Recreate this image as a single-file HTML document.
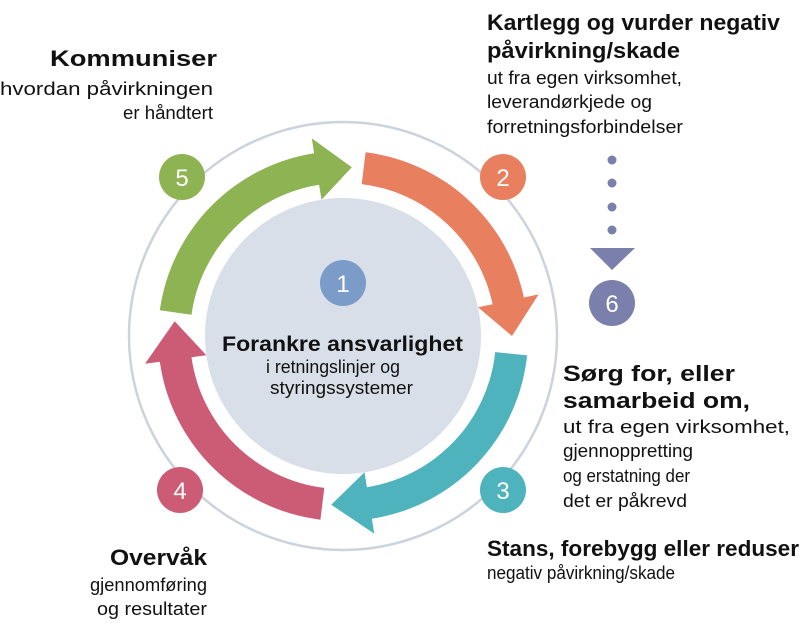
<!DOCTYPE html>
<html><head><meta charset="utf-8"><style>
html,body{margin:0;padding:0;background:#fff}
svg{display:block}
text{font-family:"Liberation Sans",sans-serif;fill:#111}
.b{font-weight:bold;font-size:22px}
.n{font-size:18px}
.num{font-family:"Liberation Sans",sans-serif;font-size:24px;fill:#fff;text-anchor:middle}
</style></head><body>
<svg width="800" height="629" viewBox="0 0 800 629" xmlns="http://www.w3.org/2000/svg">
<circle cx="343" cy="336" r="214" fill="none" stroke="#cdd3dc" stroke-width="2.5"/>
<circle cx="343" cy="336" r="138" fill="#d9dfe8"/>
<path d="M159.8,310.3 A185,185 0 0 1 314.1,153.2 L311.8,138.4 L351.8,167.2 L321.5,199.7 L319.1,184.8 A153,153 0 0 0 191.5,314.7 Z" fill="#8db352"/>
<path d="M365.6,152.3 A185,185 0 0 1 523.9,297.5 L538.6,294.4 L512,336 L478,307.3 L492.6,304.2 A153,153 0 0 0 361.7,184.1 Z" fill="#e87f5f"/>
<path d="M527.1,355.4 A185,185 0 0 1 371.9,518.8 L374.2,533.6 L331.2,504.7 L364.5,472.3 L366.9,487.2 A153,153 0 0 0 495.2,352.1 Z" fill="#4fb3bd"/>
<path d="M320.4,519.7 A185,185 0 0 1 159.8,361.7 L145,363.8 L174.7,321.3 L206.4,355.2 L191.5,357.3 A153,153 0 0 0 324.3,487.9 Z" fill="#cc5c75"/>
<circle cx="182" cy="177" r="23" fill="#8db352"/><text class="num" x="182" y="186">5</text>
<circle cx="503" cy="177" r="23" fill="#e87f5f"/><text class="num" x="503" y="186">2</text>
<circle cx="503" cy="490" r="23" fill="#4fb3bd"/><text class="num" x="503" y="499">3</text>
<circle cx="180" cy="490" r="23" fill="#cc5c75"/><text class="num" x="180" y="499">4</text>
<circle cx="343" cy="283" r="23" fill="#7b9bc9"/><text class="num" x="343" y="292">1</text>
<circle cx="612" cy="160" r="4.5" fill="#7a7fab"/>
<circle cx="612" cy="183" r="4.5" fill="#7a7fab"/>
<circle cx="612" cy="207" r="4.5" fill="#7a7fab"/>
<circle cx="612" cy="230" r="4.5" fill="#7a7fab"/>
<polygon points="590,248 635,248 612,270" fill="#7a7fab"/>
<circle cx="612" cy="303" r="23" fill="#7a7fab"/><text class="num" x="612" y="312">6</text>

<text class="b" x="222" y="351" textLength="241" lengthAdjust="spacingAndGlyphs" style="font-size:21px">Forankre ansvarlighet</text>
<text class="n" x="266" y="373" textLength="134" lengthAdjust="spacingAndGlyphs">i retningslinjer og</text>
<text class="n" x="270" y="394" textLength="143" lengthAdjust="spacingAndGlyphs">styringssystemer</text>

<text class="b" x="50" y="66" textLength="167" lengthAdjust="spacingAndGlyphs">Kommuniser</text>
<text class="n" x="0" y="95" textLength="213" lengthAdjust="spacingAndGlyphs">hvordan påvirkningen</text>
<text class="n" x="123" y="119" textLength="90" lengthAdjust="spacingAndGlyphs">er håndtert</text>

<text class="b" x="487" y="30" textLength="293" lengthAdjust="spacingAndGlyphs">Kartlegg og vurder negativ</text>
<text class="b" x="487" y="58" textLength="193" lengthAdjust="spacingAndGlyphs">påvirkning/skade</text>
<text class="n" x="487" y="84" textLength="195" lengthAdjust="spacingAndGlyphs">ut fra egen virksomhet,</text>
<text class="n" x="487" y="108" textLength="165" lengthAdjust="spacingAndGlyphs">leverandørkjede og</text>
<text class="n" x="487" y="133" textLength="196" lengthAdjust="spacingAndGlyphs">forretningsforbindelser</text>

<text class="b" x="563" y="381" textLength="172" lengthAdjust="spacingAndGlyphs">Sørg for, eller</text>
<text class="b" x="563" y="408" textLength="187" lengthAdjust="spacingAndGlyphs">samarbeid om,</text>
<text class="n" x="563" y="433" textLength="227" lengthAdjust="spacingAndGlyphs">ut fra egen virksomhet,</text>
<text class="n" x="563" y="457" textLength="130" lengthAdjust="spacingAndGlyphs">gjennoppretting</text>
<text class="n" x="563" y="482" textLength="127" lengthAdjust="spacingAndGlyphs">og erstatning der</text>
<text class="n" x="563" y="507" textLength="124" lengthAdjust="spacingAndGlyphs">det er påkrevd</text>

<text class="b" x="487" y="556" textLength="312" lengthAdjust="spacingAndGlyphs">Stans, forebygg eller reduser</text>
<text class="n" x="487" y="579" textLength="188" lengthAdjust="spacingAndGlyphs">negativ påvirkning/skade</text>

<text class="b" x="110" y="565" textLength="97" lengthAdjust="spacingAndGlyphs">Overvåk</text>
<text class="n" x="90" y="591" textLength="117" lengthAdjust="spacingAndGlyphs">gjennomføring</text>
<text class="n" x="97" y="615" textLength="110" lengthAdjust="spacingAndGlyphs">og resultater</text>
</svg>
</body></html>
